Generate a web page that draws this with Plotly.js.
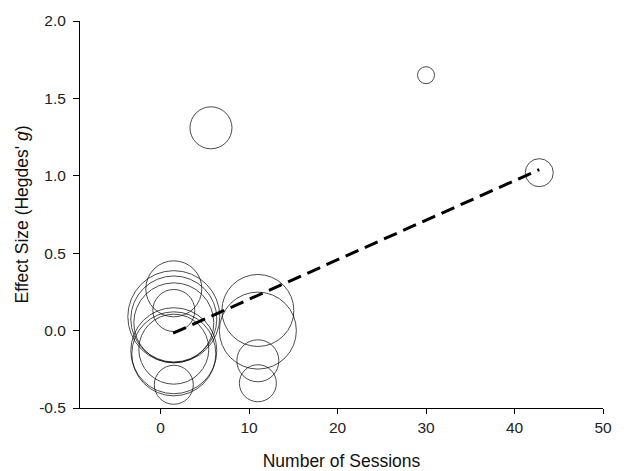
<!DOCTYPE html>
<html>
<head>
<meta charset="utf-8">
<script src="https://cdn.plot.ly/plotly-3.0.1.min.js"></script>
<style>html,body{margin:0;padding:0;background:#fff;}#chart{width:643px;height:471px;}</style>
</head>
<body>
<div id="chart"></div>
<script>
// Study-level data
const sessions = [1.5, 1.5, 1.5, 1.5, 1.5, 1.5, 1.5, 1.5, 1.5, 11.0, 11.0, 11.0, 11.0, 5.7, 30.0, 42.8];
const effectSize = [0.27, 0.13, 0.09, 0.075, 0.05, -0.13, -0.15, -0.12, -0.35, 0.13, 0.0, -0.195, -0.34, 1.31, 1.65, 1.02];
const studyWeight = [56, 42, 92, 86, 80, 86, 84, 70, 39, 72, 77, 42, 37, 42, 17, 28];

// Regression line end points
const fitX = [1.42, 42.8];
const fitY = [-0.017, 1.04];

const xTickVals = [0, 10, 20, 30, 40, 50];
const yTickVals = [-0.5, 0.0, 0.5, 1.0, 1.5, 2.0];
const yTickText = ['-0.5', '0.0', '0.5', '1.0', '1.5', '2.0'];

const font = 'Liberation Sans, Arial, sans-serif';

const traces = [
  {
    x: sessions, y: effectSize, type: 'scatter', mode: 'markers',
    marker: {
      size: studyWeight, sizemode: 'diameter', sizeref: 1,
      color: 'rgba(0,0,0,0)',
      line: {color: '#000', width: 1}
    },
    hoverinfo: 'x+y', showlegend: false, cliponaxis: false
  },
  {
    x: fitX, y: fitY, type: 'scatter', mode: 'lines',
    line: {color: '#000', width: 3, dash: '14px,7px'},
    showlegend: false
  }
];

const layout = {
  width: 643, height: 471,
  margin: {l: 80, r: 40, t: 21, b: 63},
  paper_bgcolor: '#fff', plot_bgcolor: '#fff',
  font: {family: font, color: '#000', size: 15.5},
  xaxis: {
    range: [-9.1, 50], tickvals: xTickVals,
    showline: true, linecolor: '#000', linewidth: 1,
    ticks: 'outside', ticklen: 5, tickwidth: 1, tickcolor: '#000',
    showgrid: false, zeroline: false, mirror: false,
    tickfont: {family: font, size: 15.5, color: '#222'},
    title: {text: 'Number of Sessions', font: {family: font, size: 17.5, color: '#111'}, standoff: 20}
  },
  yaxis: {
    range: [-0.5, 2.0], tickvals: yTickVals, ticktext: yTickText,
    showline: true, linecolor: '#000', linewidth: 1,
    ticks: 'outside', ticklen: 6, tickwidth: 1, tickcolor: '#000',
    showgrid: false, zeroline: false, mirror: false,
    ticklabelstandoff: 4,
    tickfont: {family: font, size: 15.5, color: '#222'},
    title: {text: "Effect Size (Hegdes' <i>g</i>)", font: {family: font, size: 17.5, color: '#111'}, standoff: 6}
  }
};

Plotly.newPlot('chart', traces, layout, {displayModeBar: false, staticPlot: true});
</script>
</body>
</html>
